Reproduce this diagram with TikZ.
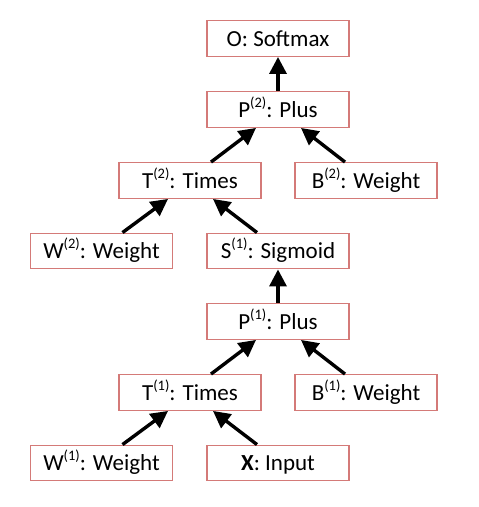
\documentclass[tikz,border=0pt]{standalone}
\usepackage{fontspec}
\setmainfont{Carlito}
\usetikzlibrary{arrows.meta}
\definecolor{boxred}{RGB}{212,122,120}
\newcommand{\supi}[1]{\raisebox{0.42em}{\fontsize{14.5}{15}\selectfont(#1)}}
\begin{document}
\begin{tikzpicture}[x=1pt,y=-1pt,
  opbox/.style={draw=boxred,line width=1.4pt,minimum width=142pt,minimum height=35.5pt,inner sep=0pt,text height=20pt,text depth=5pt,font=\fontsize{23}{26}\selectfont},
  flow/.style={line width=3.4pt,-{Triangle[length=17pt,width=17pt]}}]
\useasboundingbox (0,0) rectangle (479,507);
\node[opbox] (O)  at (278,38.5)  {O: Softmax};
\node[opbox] (P2) at (278,109.5) {P\supi{2}: Plus};
\node[opbox] (T2) at (190,180.5) {T\supi{2}: Times};
\node[opbox] (B2) at (366,180.5) {B\supi{2}: Weight};
\node[opbox] (W2) at (101.5,251) {W\supi{2}: Weight};
\node[opbox] (S1) at (278,251)   {S\supi{1}: Sigmoid};
\node[opbox] (P1) at (278,321.5) {P\supi{1}: Plus};
\node[opbox] (T1) at (190,392.5) {T\supi{1}: Times};
\node[opbox] (B1) at (366,392.5) {B\supi{1}: Weight};
\node[opbox] (W1) at (101.5,463) {W\supi{1}: Weight};
\node[opbox] (X)  at (278,463)   {\textbf{X}: Input};
\draw[flow] (P2.north) -- (O.south);
\draw[flow] ([xshift=21pt]T2.north) -- ([xshift=-22pt]P2.south);
\draw[flow] ([xshift=-21pt]B2.north) -- ([xshift=23pt]P2.south);
\draw[flow] ([xshift=21pt]W2.north) -- ([xshift=-22pt]T2.south);
\draw[flow] ([xshift=-21pt]S1.north) -- ([xshift=23pt]T2.south);
\draw[flow] (P1.north) -- (S1.south);
\draw[flow] ([xshift=21pt]T1.north) -- ([xshift=-22pt]P1.south);
\draw[flow] ([xshift=-21pt]B1.north) -- ([xshift=23pt]P1.south);
\draw[flow] ([xshift=21pt]W1.north) -- ([xshift=-22pt]T1.south);
\draw[flow] ([xshift=-21pt]X.north) -- ([xshift=23pt]T1.south);
\end{tikzpicture}
\end{document}
